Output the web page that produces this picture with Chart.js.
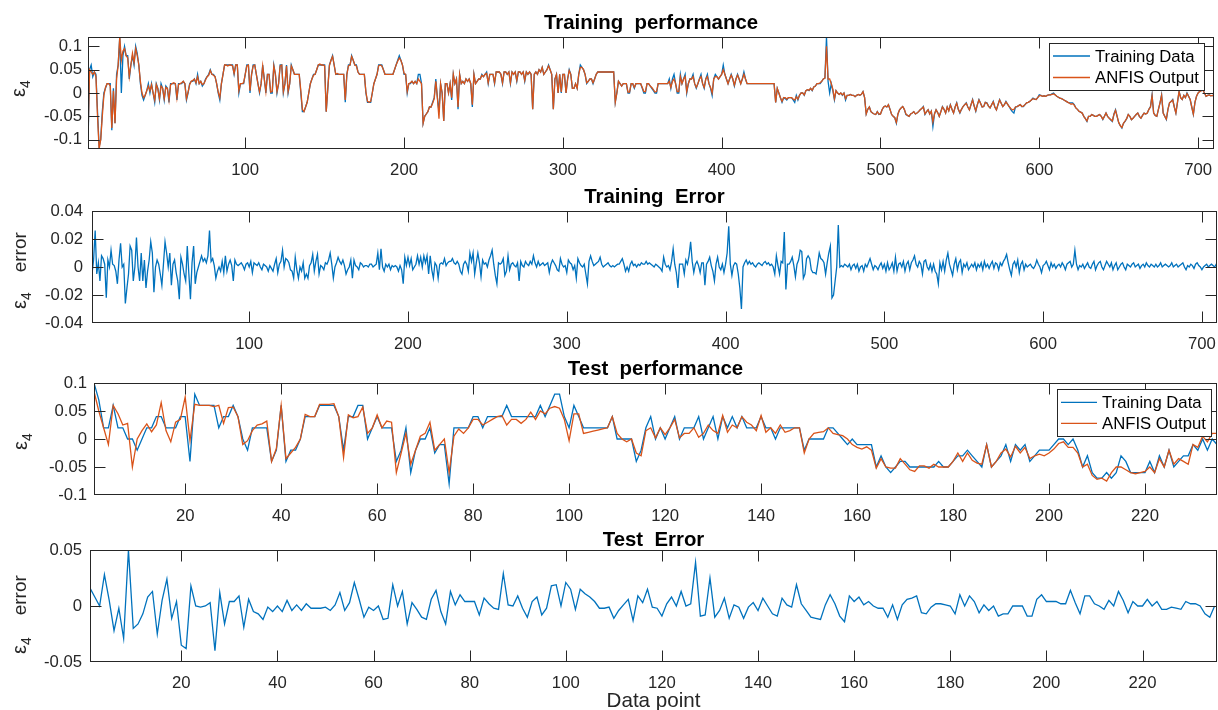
<!DOCTYPE html>
<html><head><meta charset="utf-8">
<script src="https://cdn.jsdelivr.net/npm/chart.js@4.4.0/dist/chart.umd.min.js"></script>
<style>
html,body{margin:0;padding:0;background:#fff;}
#wrap{position:relative;width:1218px;height:710px;overflow:hidden;background:#fff;}
canvas{position:absolute;left:0;top:0;}
</style></head><body>
<div id="wrap">
<canvas id="c1" width="1218" height="710"></canvas>
<canvas id="c2" width="1218" height="710"></canvas>
<canvas id="c3" width="1218" height="710"></canvas>
<canvas id="c4" width="1218" height="710"></canvas>
</div>
<script>
// ---------- DATA ----------
const seriesNames = ['Training Data', 'ANFIS Output'];
const panelTitles = ['Training  performance', 'Training  Error', 'Test  performance', 'Test  Error'];
const xAxisTitle = 'Data point';

const trainTarget = [
-.11,.05,.06,.035,.045,.04,-.04,-.115,-.1,-.04,
0,.01,.02,.02,.02,-.08,.01,-.065,.04,.06,
.12,0,.08,.1,.08,.08,.03,.06,.08,.06,
.1,.085,.06,.02,-.005,-.015,-.005,.005,.02,0,
.02,0,-.02,.02,.01,-.015,.02,.01,-.015,.015,
.01,-.02,.02,.02,.02,.02,-.015,.02,.02,.02,
.025,.02,-.015,0,.02,.025,.025,.03,.02,.04,
.02,.025,.015,.02,.03,.035,.04,.05,.04,.04,
.035,.02,0,-.015,.02,.04,.06,.06,.06,.06,
.06,.06,.04,.06,.06,0,.02,.02,.02,.04,
.06,.06,0,.04,.06,.06,.04,.02,0,.02,
.06,.03,0,.04,.04,0,0,.06,.04,0,
.02,.06,.06,0,.02,.06,0,.02,.06,.05,
.04,.04,.04,.04,0,-.04,-.04,-.03,-.02,0,
.02,.03,.04,.04,.05,.06,.06,.06,.06,.06,
-.04,.01,.06,.07,.08,.06,.04,.04,.04,.04,
.04,.04,-.02,.04,.06,.06,.08,.07,.06,.06,
.045,.04,.04,.04,.04,0,-.02,-.02,-.02,0,
.02,.03,.04,.06,.06,.06,.05,.04,.04,.04,
.04,.04,.04,.05,.06,.07,.08,.07,.06,.04,
.04,0,.02,.02,.025,.02,.025,.02,.04,.04,
.02,-.065,-.05,-.045,-.04,-.03,-.03,-.02,-.01,.03,
-.01,-.04,.02,0,-.06,.02,.02,0,.02,-.015,
.04,.02,.03,-.035,.04,.02,.025,.02,.03,.025,
.03,.02,-.03,.04,.02,.025,.03,.03,.04,.035,
.04,.045,.02,.04,.04,.04,.02,.045,.045,.045,
.04,.02,.045,.045,.04,.045,.02,.045,.04,.045,
.025,.045,.045,.04,.045,.025,.045,.04,.045,.04,
-.035,.04,.045,.04,.05,.045,.055,.04,.045,.05,
.06,.05,.04,-.035,.03,.04,0,.04,0,.04,
.04,0,.03,.05,.04,.01,.01,.02,.01,.04,
.06,.055,.05,.04,.02,.025,.03,.03,.02,.03,
.04,.045,.045,.045,.045,.045,.045,.045,.045,.045,
.045,.045,-.02,0,.025,.02,.015,.02,.02,.02,
0,0,.02,.02,.01,.02,.02,.02,.02,.01,
0,0,.02,.02,.015,.01,.005,0,0,.02,
.02,.02,.02,.02,.02,.02,.03,.01,.03,.04,
.02,0,0,.04,.02,.03,.04,0,.02,.03,
.03,.04,.02,.01,.02,.03,.04,.02,.01,.03,
.04,.02,.01,-.005,.03,.04,.035,.03,.035,.04,
.06,.04,.03,.02,.03,.04,.03,.015,.03,.04,
.03,.02,.03,.045,.03,.02,.02,.02,.02,.02,
.02,.02,.02,.02,.02,.02,.02,.02,.02,.02,
.02,.02,.02,-.02,.01,0,-.01,-.02,-.01,-.012,
-.015,-.01,-.01,-.01,-.015,-.02,-.005,-.015,-.005,0,
0,-.005,.005,.007,.005,.01,.005,.013,.015,.02,
.02,.02,.025,.03,.032,.12,.025,0,.02,.005,
-.015,.005,0,-.003,0,-.005,0,-.015,-.005,-.005,
-.003,-.005,-.005,-.008,-.005,-.003,-.005,-.003,.003,-.01,
-.045,-.035,-.03,-.04,-.043,-.045,-.046,-.04,-.046,-.045,
-.036,-.03,-.028,-.03,-.025,-.035,-.046,-.05,-.053,-.065,
-.045,-.036,-.032,-.029,-.035,-.046,-.048,-.05,-.045,-.043,
-.04,-.045,-.043,-.04,-.036,-.033,-.029,-.046,-.04,-.036,
-.045,-.039,-.072,-.045,-.036,-.042,-.05,-.04,-.029,-.035,
-.043,-.03,-.038,-.025,-.035,-.043,-.03,-.021,-.035,-.043,
-.035,-.029,-.025,-.021,-.03,-.036,-.025,-.014,-.028,-.039,
-.025,-.014,-.022,-.03,-.029,-.02,-.021,-.028,-.032,-.025,
-.018,-.03,-.036,-.025,-.014,-.022,-.029,-.025,-.018,-.024,
-.029,-.035,-.04,-.043,-.03,-.029,-.027,-.025,-.029,-.029,
-.025,-.021,-.02,-.018,-.015,-.011,-.013,-.014,-.01,-.004,
-.005,-.007,-.006,-.007,-.005,-.004,-.004,-.002,0,-.004,
-.007,-.009,-.011,-.012,-.014,-.016,-.018,-.02,-.021,-.021,
-.021,-.025,-.032,-.035,-.039,-.041,-.043,-.05,-.055,-.061,
-.05,-.05,-.046,-.048,-.05,-.05,-.048,-.046,-.05,-.057,
-.05,-.043,-.05,-.054,-.058,-.061,-.045,-.036,-.05,-.064,
-.07,-.075,-.065,-.061,-.055,-.046,-.05,-.057,-.054,-.05,
-.046,-.043,-.05,-.054,-.048,-.043,-.045,-.043,-.035,-.029,
-.004,-.043,-.048,-.05,-.035,-.021,-.004,-.043,-.05,-.057,
-.035,-.021,-.018,-.014,-.03,-.043,-.02,.004,-.01,-.014,
-.005,-.01,0,-.007,-.014,-.03,-.046,-.02,-.007,0,
.004,.005,.007,0,-.007,-.005,-.004,-.006,-.005,-.007
];

const trainAnfis = [
-.1,.05,.045,.04,.045,.035,-.05,-.12,-.1,-.05,
-.005,.012,.02,.02,.015,-.075,.005,-.065,.03,.06,
.12,.07,.09,.095,.08,.075,.035,.06,.085,.065,
.095,.08,.06,.025,0,-.01,-.005,.005,.015,.005,
.018,0,-.015,.018,.008,-.012,.015,.01,-.012,.012,
.01,-.015,.018,.02,.022,.02,-.01,.018,.02,.022,
.025,.02,-.012,.002,.018,.025,.027,.03,.022,.035,
.02,.025,.018,.02,.028,.035,.038,.048,.04,.038,
.035,.02,.002,-.01,.02,.04,.06,.06,.058,.06,
.06,.058,.042,.06,.06,.005,.02,.02,.022,.04,
.058,.06,.005,.04,.058,.06,.04,.02,.003,.02,
.058,.03,.003,.04,.04,.002,.003,.058,.04,.003,
.02,.058,.06,.003,.02,.058,.003,.02,.058,.05,
.04,.04,.04,.04,.005,-.035,-.04,-.03,-.02,0,
.02,.03,.038,.04,.05,.06,.062,.06,.06,.058,
-.04,.01,.058,.07,.078,.06,.04,.042,.04,.04,
.04,.04,-.015,.04,.058,.06,.078,.07,.06,.058,
.045,.04,.04,.04,.04,.002,-.018,-.02,-.018,0,
.02,.03,.04,.058,.06,.058,.05,.04,.04,.04,
.04,.04,.04,.05,.06,.068,.075,.07,.06,.042,
.04,.003,.02,.022,.025,.02,.025,.02,.03,.025,
.02,-.065,-.05,-.045,-.04,-.03,-.03,-.022,-.012,.025,
-.01,-.055,.02,0,-.06,.02,.02,0,.02,-.01,
.04,.02,.03,-.03,.04,.02,.025,.02,.03,.025,
.03,.02,-.025,.04,.02,.025,.03,.03,.038,.035,
.04,.042,.022,.04,.04,.04,.022,.045,.045,.045,
.04,.022,.045,.045,.04,.045,.022,.045,.04,.045,
.027,.045,.045,.04,.045,.027,.045,.04,.045,.04,
-.035,.04,.045,.04,.05,.045,.055,.04,.045,.05,
.058,.05,.04,-.035,.03,.04,0,.04,.002,.04,
.04,0,.03,.048,.04,.01,.01,.02,.01,.04,
.055,.055,.05,.04,.022,.025,.03,.03,.022,.03,
.04,.045,.045,.045,.045,.045,.045,.045,.045,.045,
.045,.045,-.02,0,.025,.02,.015,.02,.02,.02,
.002,.002,.02,.02,.012,.02,.02,.02,.02,.012,
.003,.003,.02,.02,.015,.012,.007,.002,.003,.02,
.02,.02,.02,.02,.02,.02,.025,.012,.025,.03,
.02,.003,.003,.035,.02,.03,.035,.003,.02,.03,
.03,.035,.02,.012,.02,.03,.035,.02,.012,.03,
.035,.02,.012,0,.03,.035,.035,.03,.035,.04,
.05,.04,.03,.02,.03,.038,.03,.017,.03,.038,
.03,.02,.03,.04,.03,.02,.02,.02,.02,.02,
.02,.02,.02,.02,.02,.02,.02,.02,.02,.02,
.02,.02,.02,-.02,.01,0,-.01,-.018,-.01,-.01,
-.013,-.01,-.01,-.01,-.013,-.015,-.008,-.013,-.005,0,
0,-.004,.005,.007,.006,.01,.006,.013,.015,.02,
.02,.022,.025,.03,.032,.1,.03,.03,.02,.008,
-.012,.005,0,-.003,0,-.004,0,-.012,-.005,-.005,
-.003,-.005,-.005,-.008,-.005,-.003,-.005,-.003,.003,-.01,
-.045,-.035,-.03,-.04,-.043,-.045,-.046,-.04,-.045,-.045,
-.036,-.03,-.028,-.03,-.025,-.035,-.046,-.05,-.053,-.063,
-.045,-.036,-.032,-.029,-.035,-.045,-.048,-.05,-.045,-.043,
-.04,-.045,-.043,-.04,-.036,-.033,-.03,-.045,-.04,-.036,
-.045,-.039,-.062,-.045,-.036,-.042,-.05,-.04,-.03,-.035,
-.043,-.03,-.038,-.026,-.035,-.043,-.03,-.022,-.035,-.042,
-.035,-.029,-.025,-.022,-.03,-.036,-.025,-.015,-.028,-.038,
-.025,-.015,-.022,-.03,-.029,-.02,-.022,-.028,-.032,-.025,
-.019,-.03,-.036,-.025,-.015,-.022,-.029,-.025,-.019,-.024,
-.029,-.033,-.036,-.035,-.03,-.029,-.027,-.025,-.029,-.028,
-.025,-.021,-.02,-.018,-.015,-.012,-.013,-.014,-.01,-.006,
-.005,-.007,-.006,-.007,-.005,-.004,-.004,-.003,-.002,-.004,
-.007,-.009,-.011,-.012,-.014,-.016,-.018,-.02,-.022,-.024,
-.023,-.026,-.032,-.035,-.039,-.041,-.043,-.05,-.055,-.06,
-.05,-.05,-.046,-.048,-.05,-.05,-.048,-.046,-.05,-.056,
-.05,-.043,-.05,-.054,-.057,-.06,-.046,-.037,-.05,-.063,
-.07,-.074,-.065,-.06,-.055,-.046,-.05,-.057,-.054,-.05,
-.046,-.043,-.05,-.054,-.048,-.043,-.045,-.043,-.035,-.03,
-.006,-.043,-.048,-.05,-.035,-.021,-.005,-.043,-.05,-.056,
-.035,-.021,-.018,-.015,-.03,-.043,-.02,.003,-.01,-.014,
-.005,-.01,-.001,-.007,-.014,-.03,-.045,-.02,-.007,0,
.003,.005,.006,0,-.007,-.005,-.004,-.006,-.005,-.006
];

const trainError = [
-.005,.005,.026,-.005,.003,-.01,.008,.006,.002,-.022,
.005,0,.012,.002,.001,-.003,-.012,.005,.017,0,
.002,-.026,-.015,-.005,.015,.012,-.01,0,.021,0,
-.01,.01,-.01,.005,-.015,-.003,.005,.018,.01,-.018,
0,.005,.002,-.005,-.013,.002,.018,.01,0,.01,
-.013,.002,.005,-.004,-.01,-.023,.007,.002,-.005,-.01,
.015,-.005,-.023,.003,.015,-.012,-.004,0,.004,.008,
.004,.006,.003,.008,.026,.004,.006,.001,-.008,-.003,
0,-.003,.004,-.004,.008,-.003,.002,.005,.001,-.01,
.005,.002,.001,.002,.003,.001,-.002,.002,.003,0,
.004,-.004,.003,.002,.001,.003,0,-.002,.002,.001,
0,-.003,.001,-.001,-.003,.002,.006,-.004,.002,.004,
.012,0,.006,.005,.003,-.002,-.003,-.008,.007,-.002,
-.008,0,-.003,.003,-.008,-.005,-.008,.001,.003,.009,
-.003,.004,.009,-.005,.001,0,-.002,.003,.002,.005,
.01,.002,-.008,0,.003,.007,.004,.002,.005,.001,
-.005,-.002,0,.005,-.008,.005,.001,0,-.002,.003,
.002,0,.001,.001,0,.002,.002,0,.001,.002,
.01,-.002,.013,0,-.003,.002,0,.002,-.002,.001,
0,.001,0,-.003,.001,-.002,-.012,.007,.001,.007,
.001,.006,-.002,0,.002,.008,.002,.007,0,.008,
.003,.008,-.005,.008,-.002,-.008,.003,.001,-.008,.002,
.003,.002,.006,.001,.003,.004,.004,.006,.003,.002,
.004,.002,-.003,-.005,.002,.004,.002,-.003,.01,.004,
.01,-.005,.003,.01,.003,-.007,.005,.002,.003,0,
.005,.008,.012,.002,-.006,-.012,.003,.002,.003,.006,
-.006,-.003,.008,-.002,.002,.003,.001,0,.003,-.01,
.004,.001,0,.004,.002,.001,.004,.002,.008,.003,
0,.004,.001,.002,.003,.001,.002,.003,-.004,.002,
.005,.003,.001,-.002,-.003,.006,.002,0,.001,-.004,
.005,.003,.002,-.002,.001,-.008,.006,.003,.001,0,
.002,-.005,-.012,.004,.008,.004,.001,.002,.003,.004,
.007,.002,0,.001,.002,.003,.001,0,.001,0,
.001,.002,.002,.004,.006,.002,-.003,0,-.003,.002,
.004,.001,.002,0,.002,.001,.003,.002,.002,.004,
.002,.003,.002,.001,0,.002,.001,0,-.001,-.003,
.007,.002,0,.001,-.002,.004,.013,.002,-.004,-.015,
.002,.002,.002,-.005,.005,.002,.008,.018,.004,-.004,
.002,.004,.001,-.004,.003,.003,-.013,.002,.004,.007,
.001,-.003,-.01,.002,.007,0,-.002,.002,-.004,.002,
.01,.029,.002,-.006,.001,.003,.002,-.005,-.015,-.03,
0,.003,.005,.002,.004,.002,.003,.001,0,.002,
.003,.002,.001,.003,.004,.002,.003,.001,.002,0,
-.005,.008,.001,-.005,.004,.003,.025,-.016,.002,.002,
.004,.007,.001,-.007,.002,.005,.012,.011,-.008,-.005,
.006,.008,.006,-.002,-.004,-.004,-.005,.002,.01,.006,
.005,.003,-.005,.003,.01,.015,-.022,-.02,-.01,0,
.03,0,.001,0,.002,.001,0,.002,-.002,.001,
.002,-.001,.002,-.003,0,.001,-.003,.002,0,.003,
.006,.002,-.002,.001,0,-.002,.001,.003,-.001,.002,
-.003,.003,-.002,0,.003,-.003,.007,-.003,.002,.003,
0,.004,-.003,.002,.004,-.002,.003,.005,.008,.002,
0,.004,.002,-.005,.004,.005,0,-.002,.002,-.003,
.002,-.003,-.005,-.012,.003,-.002,.004,-.003,.005,.01,
.002,-.002,-.006,.002,.006,-.002,.003,.005,-.004,.002,
0,.003,-.002,0,.002,0,.003,-.002,.002,0,
.003,-.002,.004,0,.002,-.001,.002,.004,-.001,.003,
.002,-.002,.003,.001,.004,.006,.009,.003,-.002,-.006,
.002,.004,0,.005,-.004,.002,.004,-.002,.002,0,
.001,.002,0,-.001,.001,.005,.002,0,-.004,.001,
.002,.004,.001,-.002,.003,0,.002,-.001,.001,.002,
0,.003,.001,-.002,.002,.003,.004,0,.002,.012,
.002,-.002,.001,0,.002,-.001,.001,.003,0,-.001,
.002,.004,-.002,.001,.003,.004,0,-.002,.001,.004,
.002,0,.003,-.002,.001,.003,-.002,0,.002,.003,
0,-.002,.002,.001,0,.002,.003,0,.001,.002,
-.001,.001,.002,0,.003,.001,0,.002,.001,0,
.002,0,.001,.003,0,.001,.002,.001,0,.001,
.003,0,.001,.002,0,.001,.002,.003,0,-.002,
.001,0,.002,.001,-.001,.002,.003,.001,0,-.002,
0,.001,.002,0,.001,.002,.001,0,.002,.001
];

const testTarget = [
.1,.07,.02,.02,.06,.02,.02,0,0,-.02,
0,.02,.02,.04,.04,.02,.02,.02,.04,.04,
-.04,.08,.06,.06,.06,.06,.02,.04,.04,.06,
.04,0,-.02,.02,.02,.02,.02,-.04,-.02,.06,
-.04,-.02,-.02,0,.04,.04,.04,.06,.06,.06,
.06,.04,-.02,.04,.04,.06,.06,0,.02,.04,
.02,.02,.02,-.04,-.02,.02,-.06,-.02,0,0,
.02,-.025,-.01,-.01,-.08,.02,.02,.02,.02,.04,
.04,.02,.04,.04,.04,.04,.06,.04,.04,.04,
.04,.04,.04,.06,.04,.06,.08,.08,.04,.02,
.06,.04,.02,.02,.02,.02,.02,.02,.04,0,
0,0,0,-.04,-.02,.02,.04,0,.02,0,
.02,.04,0,.02,.02,.02,.04,0,.02,.04,
0,.04,.02,.04,.02,.04,.02,.02,.02,.04,
.02,.02,0,.02,.02,.02,.02,.02,-.02,0,
0,0,0,.02,.02,.01,0,-.01,0,-.01,
-.01,-.01,-.01,-.05,-.03,-.05,-.06,-.05,-.04,-.04,
-.05,-.05,-.05,-.05,-.05,-.05,-.04,-.05,-.05,-.04,
-.03,-.03,-.02,-.03,-.04,-.05,-.01,-.05,-.04,-.03,
-.01,-.04,-.01,-.02,-.01,-.04,-.03,-.02,-.02,-.02,
-.01,0,0,-.01,0,-.02,-.05,-.03,-.06,-.07,
-.07,-.06,-.07,-.06,-.03,-.04,-.06,-.06,-.06,-.06,
-.04,-.06,-.03,-.05,-.02,-.05,-.04,-.03,-.03,-.01,
-.02,0,-.02,0,-.01
];

const testAnfis = [
.085,.05,.02,-.01,.06,.045,.025,.028,-.05,0,
.015,.027,.013,.025,.065,.015,-.005,.03,.035,.075,
-.003,.062,.06,.06,.06,.058,.06,.028,.056,.057,
.04,-.01,-.003,.015,.025,.027,.032,-.04,-.017,.06,
-.035,-.025,-.015,0,.044,.04,.04,.062,.062,.062,
.063,.04,-.033,.043,.038,.04,.057,.01,.02,.043,
.02,.032,.03,-.06,-.025,.01,-.045,-.02,.005,.01,
.03,-.02,-.01,0,-.06,.005,.018,.01,.02,.035,
.035,.025,.03,.035,.04,.042,.025,.035,.035,.028,
.035,.048,.035,.05,.045,.055,.058,.055,.035,-.003,
.045,.045,.01,.012,.014,.016,.018,.02,.04,.01,
0,-.005,0,-.025,-.03,.015,.02,.002,.02,.008,
.02,.035,.002,.01,.01,.02,.003,.01,.025,.015,
.01,.042,.012,.025,.02,.04,.03,.025,.015,.042,
.012,.02,.01,.025,.012,.015,.02,.02,-.025,0,
.01,.012,.013,.02,.01,.008,.006,0,-.01,-.015,
-.018,-.014,-.02,-.052,-.035,-.05,-.052,-.052,-.035,-.045,
-.055,-.058,-.048,-.048,-.052,-.045,-.05,-.05,-.05,-.04,
-.025,-.04,-.025,-.038,-.043,-.045,-.01,-.05,-.04,-.025,
-.018,-.032,-.013,-.025,-.015,-.035,-.03,-.027,-.03,-.025,
-.018,-.008,-.005,-.015,-.015,-.025,-.05,-.045,-.065,-.072,
-.07,-.075,-.06,-.05,-.05,-.055,-.06,-.062,-.06,-.058,
-.05,-.06,-.035,-.05,-.02,-.045,-.035,-.04,-.045,-.01,
-.015,.005,-.005,.01,.01
];

const testError = [
.016,.008,0,.028,.005,-.022,-.002,-.029,.05,-.02,
-.016,-.007,.008,.013,-.025,.005,.024,-.011,.004,-.035,
-.038,.018,0,-.001,0,.003,-.04,.012,-.016,.004,
.004,.009,-.019,.006,-.005,-.007,-.012,-.001,-.005,0,
-.005,.005,-.004,.001,-.004,.002,-.002,-.002,-.002,-.001,
-.004,.001,.012,-.004,.003,.021,.006,-.01,-.001,-.004,
0,-.012,-.011,.019,0,.013,-.016,.003,-.003,-.01,
-.012,.006,.014,-.005,-.016,.013,.001,.01,.004,.004,
.004,-.008,.007,.002,-.002,-.003,.029,.001,0,.009,
-.002,-.01,.004,.008,-.008,-.002,.018,.019,0,.021,
.015,-.003,.015,.011,.008,.004,-.002,-.002,-.001,-.011,
-.004,.001,.006,-.013,.009,.003,.015,-.001,-.002,-.009,
.002,.008,0,.013,0,.002,.039,-.009,-.008,.025,
-.01,-.004,.007,-.011,.001,-.001,-.011,-.001,.003,-.004,
.007,0,-.007,-.009,.007,.001,-.001,.019,.002,-.004,
-.01,-.011,-.012,.001,.01,.002,-.009,-.014,.009,.004,
.008,.001,.004,0,-.002,-.002,-.01,.001,-.012,.001,
.006,.007,.009,-.006,-.007,-.001,.002,.002,.001,0,
-.007,.01,0,.009,.004,-.006,.001,-.004,0,-.009,
-.007,-.007,0,0,0,-.009,-.009,.006,.01,.004,
.004,.004,.002,.002,.014,.003,-.007,.009,.009,.002,
0,-.003,.005,0,.013,.005,-.006,.004,0,0,
.006,0,.004,-.003,-.003,-.001,-.002,-.003,.004,.002,
.002,0,-.007,-.01,0
];

const trainXTicks = [100, 200, 300, 400, 500, 600, 700];
const testXTicks = [20, 40, 60, 80, 100, 120, 140, 160, 180, 200, 220];
const perfYTicks = [-0.1, -0.05, 0, 0.05, 0.1];
const trainErrYTicks = [-0.04, -0.02, 0, 0.02, 0.04];
const testErrYTicks = [-0.05, 0, 0.05];

// ---------- STYLE ----------
const FONT = '"Liberation Sans", Arial, Helvetica, sans-serif';
const AXC = '#262626';
const BLUE = '#0072BD';
const ORANGE = '#D95319';
const W = 1218, H = 710;
const YW = 80, XH = 30;

function drawDecor(chart, o) {
  const ctx = chart.ctx, a = chart.chartArea, xs = chart.scales.x, ys = chart.scales.y;
  ctx.save();
  const L = Math.round(a.left) + 0.5, R = Math.round(a.right) - 0.5;
  const T = Math.round(a.top) + 0.5, B = Math.round(a.bottom) - 0.5;
  const clamp = (v, lo, hi) => Math.min(Math.max(v, lo), hi);
  ctx.strokeStyle = AXC; ctx.lineWidth = 1;
  ctx.beginPath();
  o.xTicks.forEach(v => {
    const p = clamp(Math.round(xs.getPixelForValue(v)) + 0.5, L, R);
    ctx.moveTo(p, B); ctx.lineTo(p, B - 11);
    ctx.moveTo(p, T); ctx.lineTo(p, T + 11);
  });
  o.yTicks.forEach(v => {
    const p = clamp(Math.round(ys.getPixelForValue(v)) + 0.5, T, B);
    ctx.moveTo(L, p); ctx.lineTo(L + 11, p);
    ctx.moveTo(R, p); ctx.lineTo(R - 11, p);
  });
  ctx.stroke();
  ctx.strokeRect(L, T, R - L, B - T);
  // title
  ctx.fillStyle = '#000';
  ctx.font = 'bold 20.4px ' + FONT;
  ctx.textAlign = 'center'; ctx.textBaseline = 'alphabetic';
  ctx.fillText(o.title, (a.left + a.right) / 2, o.titleY);
  // y label (rotated): epsilon with subscript 4, optional word
  ctx.save();
  ctx.translate(o.ylab.x, o.ylab.y);
  ctx.rotate(-Math.PI / 2);
  ctx.fillStyle = AXC; ctx.textAlign = 'left'; ctx.textBaseline = 'alphabetic';
  ctx.font = '20px ' + FONT;
  ctx.fillText('\u03B5', 0, 0);
  let w = ctx.measureText('\u03B5').width;
  ctx.font = '14px ' + FONT;
  ctx.fillText('4', w, 5);
  w += ctx.measureText('4').width;
  if (o.ylab.word) {
    ctx.font = '19px ' + FONT;
    ctx.fillText(o.ylab.word, w + o.ylab.gap, 0);
  }
  ctx.restore();
  // x label
  if (o.xlabel) {
    ctx.fillStyle = AXC; ctx.font = '20.6px ' + FONT;
    ctx.textAlign = 'center'; ctx.textBaseline = 'alphabetic';
    ctx.fillText(o.xlabel, (a.left + a.right) / 2, o.xlabelY);
  }
  // legend
  if (o.legend) {
    const g = o.legend;
    ctx.fillStyle = '#fff';
    ctx.fillRect(g.x, g.y, g.w, g.h);
    ctx.strokeStyle = AXC; ctx.lineWidth = 1;
    ctx.strokeRect(g.x + 0.5, g.y + 0.5, g.w, g.h);
    chart.data.datasets.forEach((ds, k) => {
      const yy = g.rows[k];
      ctx.strokeStyle = ds.borderColor; ctx.lineWidth = ds.borderWidth;
      ctx.beginPath(); ctx.moveTo(g.lx0, yy); ctx.lineTo(g.lx1, yy); ctx.stroke();
      ctx.fillStyle = '#000'; ctx.font = '16.7px ' + FONT;
      ctx.textAlign = 'left'; ctx.textBaseline = 'middle';
      ctx.fillText(ds.label, g.tx, yy + 1);
    });
  }
  ctx.restore();
}

function idx(n) { return Array.from({ length: n }, (_, k) => k + 1); }

function makeChart(id, p) {
  const datasets = p.series.map((s, k) => ({
    label: s.label, data: s.data, borderColor: s.color, backgroundColor: s.color,
    borderWidth: 1.3, pointRadius: 0, tension: 0, fill: false, order: p.series.length - k
  }));
  const decor = { id: 'decor_' + id, afterDraw(chart) { drawDecor(chart, p); } };
  return new Chart(document.getElementById(id), {
    type: 'line',
    data: { labels: idx(p.n), datasets },
    options: {
      responsive: false, animation: false, devicePixelRatio: 1,
      layout: { autoPadding: false, padding: { left: p.area.l - YW, top: p.area.t, right: W - p.area.r, bottom: H - p.area.b - XH } },
      plugins: { legend: { display: false }, title: { display: false }, tooltip: { enabled: false } },
      scales: {
        x: {
          type: 'linear', min: 1, max: p.xMax,
          afterBuildTicks: s => { s.ticks = p.xTicks.map(v => ({ value: v })); },
          afterFit: s => { s.height = XH; s.paddingLeft = 0; s.paddingRight = 0; },
          grid: { display: false, drawTicks: false }, border: { display: false },
          ticks: { font: { family: FONT, size: 16.7 }, color: AXC, padding: 11, maxRotation: 0, autoSkip: false, callback: v => String(v) }
        },
        y: {
          min: p.yMin, max: p.yMax,
          afterBuildTicks: s => { s.ticks = p.yTicks.map(v => ({ value: v })); },
          afterFit: s => { s.width = YW; s.paddingTop = 0; s.paddingBottom = 0; },
          grid: { display: false, drawTicks: false }, border: { display: false },
          ticks: { font: { family: FONT, size: 16.7 }, color: AXC, padding: p.yGap, autoSkip: false, callback: v => String(v) }
        }
      }
    },
    plugins: [decor]
  });
}

makeChart('c1', {
  n: trainTarget.length, xMax: 710, xTicks: trainXTicks, yTicks: perfYTicks, yMin: -0.12, yMax: 0.12,
  area: { l: 88, t: 37, r: 1214, b: 149 }, yGap: 6,
  title: panelTitles[0], titleY: 28.5,
  ylab: { x: 25, y: 97 },
  series: [{ label: seriesNames[0], data: trainTarget, color: BLUE }, { label: seriesNames[1], data: trainAnfis, color: ORANGE }],
  legend: { x: 1049, y: 43, w: 155, h: 47, rows: [56, 77.5], lx0: 1053, lx1: 1090, tx: 1095 }
});
makeChart('c2', {
  n: trainError.length, xMax: 709.5, xTicks: trainXTicks, yTicks: trainErrYTicks, yMin: -0.04, yMax: 0.04,
  area: { l: 92, t: 211, r: 1217, b: 323 }, yGap: 9,
  title: panelTitles[1], titleY: 203,
  ylab: { x: 26, y: 309, word: 'error', gap: 20 },
  series: [{ label: 'error', data: trainError, color: BLUE }]
});
makeChart('c3', {
  n: testTarget.length, xMax: 235, xTicks: testXTicks, yTicks: perfYTicks, yMin: -0.1, yMax: 0.1,
  area: { l: 94, t: 383, r: 1217, b: 495 }, yGap: 7,
  title: panelTitles[2], titleY: 374.5,
  ylab: { x: 27, y: 450 },
  series: [{ label: seriesNames[0], data: testTarget, color: BLUE }, { label: seriesNames[1], data: testAnfis, color: ORANGE }],
  legend: { x: 1057, y: 389, w: 154, h: 47, rows: [402.3, 423.3], lx0: 1061, lx1: 1097, tx: 1102 }
});
makeChart('c4', {
  n: testError.length, xMax: 235.5, xTicks: testXTicks, yTicks: testErrYTicks, yMin: -0.05, yMax: 0.05,
  area: { l: 90, t: 550, r: 1217, b: 662 }, yGap: 8,
  title: panelTitles[3], titleY: 545.5,
  ylab: { x: 26, y: 654, word: 'error', gap: 22 },
  xlabel: xAxisTitle, xlabelY: 707,
  series: [{ label: 'error', data: testError, color: BLUE }]
});
</script>
</body></html>
